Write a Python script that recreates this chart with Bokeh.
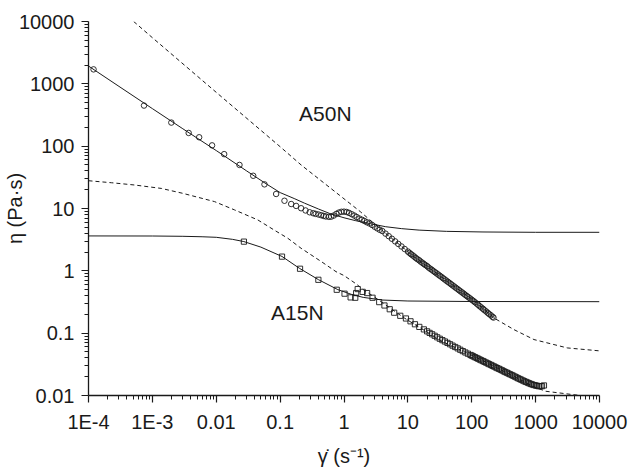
from bokeh.plotting import figure
from bokeh.models import Range1d, FixedTicker, CustomJSTickFormatter, Label
from bokeh.embed import file_html
from bokeh.resources import INLINE

# ---- axis ticks -------------------------------------------------------
x_ticks = [1e-4, 1e-3, 1e-2, 1e-1, 1, 10, 100, 1000, 10000]
x_tick_labels = ["1E-4", "1E-3", "0.01", "0.1", "1", "10", "100", "1000", "10000"]
y_ticks = [0.01, 0.1, 1, 10, 100, 1000, 10000]
y_tick_labels = ["0.01", "0.1", "1", "10", "100", "1000", "10000"]

# ---- A50N: measured viscosity (circles) -------------------------------
a50n_rate = [1.2e-4, 7.4e-4, 1.98e-3, 3.7e-3, 5.4e-3, 8.6e-3, 0.0133, 0.0231, 0.0379, 0.0569,
             0.0866, 0.117, 0.149, 0.178, 0.213, 0.25, 0.29, 0.33, 0.36, 0.40, 0.44, 0.48, 0.52,
             0.58, 0.63, 0.69, 0.76, 0.83, 0.91, 1.0, 1.10, 1.20, 1.32, 1.45, 1.58, 1.74, 1.91,
             2.09, 2.29, 2.51, 2.75, 3.02, 3.31, 3.63,
             3.98, 4.47, 5.01, 5.62, 6.31, 7.08, 7.94, 8.91, 10.0, 10.6, 11.2, 11.9, 12.6,
             13.3, 14.1, 15.0, 15.8, 16.8, 17.8, 18.8, 20.0, 21.1, 22.4, 23.7, 25.1, 26.6, 28.2,
             29.9, 31.6, 33.5, 35.5, 37.6, 39.8,
             42.2, 44.7, 47.3, 50.1, 53.1, 56.2, 59.6, 63.1, 66.8, 70.8, 75.0, 79.4, 84.1, 89.1,
             94.4, 100, 106, 112,
             119, 126, 133, 141, 150, 158, 168, 178, 188, 200, 211, 219]
a50n_eta = [1706, 448, 239, 163, 139, 103, 74.5, 50, 33.5, 24.4,
            17.1, 13.3, 11.8, 11.0, 10.1, 9.3, 8.7, 8.4, 8.2, 8.0, 7.8, 7.6, 7.45,
            7.35, 7.4, 7.7, 8.2, 8.6, 8.85, 8.9, 8.8, 8.5, 8.1, 7.7, 7.3, 6.9, 6.6,
            6.3, 6.0, 5.75, 5.45, 5.1, 4.8, 4.55,
            4.35, 3.95, 3.6, 3.27, 2.97, 2.70, 2.46, 2.24, 2.04, 1.94, 1.85, 1.77, 1.69,
            1.61, 1.54, 1.48, 1.41, 1.35, 1.29, 1.24, 1.19, 1.13, 1.08, 1.04, 0.993, 0.95, 0.91,
            0.87, 0.834, 0.80, 0.762, 0.73, 0.698,
            0.668, 0.64, 0.612, 0.585, 0.56, 0.536, 0.513, 0.49, 0.469, 0.449, 0.43, 0.41, 0.393, 0.376,
            0.36, 0.344, 0.329, 0.314,
            0.299, 0.285, 0.271, 0.258, 0.246, 0.234, 0.223, 0.212, 0.202, 0.193, 0.183, 0.178]

# ---- A15N: measured viscosity (squares) -------------------------------
a15n_rate = [0.0271, 0.107, 0.205, 0.397, 0.77, 1.02, 1.27, 1.5, 1.55, 1.64, 1.96, 2.3,
             2.8, 3.56, 4.3, 5.2, 6.1, 7.6, 9.33, 11.0, 12.9, 15.1, 17.8, 20.0,
             21.9, 24.0, 26.3, 28.8, 31.6, 34.7, 38.0, 41.7, 45.7, 50.1, 55.0, 60.3, 66.1,
             72.4, 79.4, 87.1, 95.5,
             100, 106, 112, 119, 126, 133, 141, 150, 158, 168, 178, 188, 200, 211, 224, 237,
             251, 266, 282, 299, 316, 335, 355, 376, 398, 422, 447, 473, 501, 531, 562, 596,
             631, 668, 708, 750, 794, 841, 891, 944, 1000, 1059, 1122, 1189, 1259, 1350]
a15n_eta = [2.94, 1.69, 1.08, 0.718, 0.497, 0.43, 0.375, 0.37, 0.44, 0.51, 0.46, 0.44,
            0.37, 0.315, 0.278, 0.242, 0.213, 0.19, 0.172, 0.155, 0.139, 0.126, 0.115, 0.107,
            0.101, 0.096, 0.0908, 0.0859, 0.0813, 0.0773, 0.0735, 0.0698, 0.0664, 0.0631, 0.060,
            0.057, 0.0542, 0.0515, 0.049, 0.0468, 0.0447,
            0.0437, 0.0424, 0.0412, 0.040, 0.0389, 0.0378, 0.0367, 0.0357, 0.0347, 0.0337,
            0.0327, 0.0318, 0.0309, 0.030, 0.0292, 0.0283,
            0.0275, 0.0268, 0.026, 0.0253, 0.0245, 0.0238, 0.0232, 0.0225, 0.0219, 0.0213,
            0.0207, 0.0201, 0.0195, 0.0189, 0.0184, 0.0179,
            0.0174, 0.0169, 0.0165, 0.0161, 0.0157, 0.0153, 0.015, 0.0147, 0.0145, 0.0143,
            0.0141, 0.0141, 0.0141, 0.0145]

# ---- model curves -----------------------------------------------------
a50n_fit_rate = [1e-4, 3e-4, 1e-3, 3e-3, 0.01, 0.03, 0.06, 0.1, 0.17, 0.24, 0.4, 0.6, 1.0,
                 1.5, 2.6, 4.5, 8, 15, 40, 150, 1000, 10000]
a50n_fit_eta = [1930, 910, 400, 190, 85, 40, 25, 18, 14.3, 12.2, 9.8, 8.3, 7.1,
                6.4, 5.7, 5.1, 4.75, 4.5, 4.3, 4.2, 4.15, 4.15]

a15n_fit_rate = [1e-4, 1e-3, 3e-3, 0.006, 0.01, 0.018, 0.027, 0.05, 0.107, 0.2, 0.4, 0.8,
                 1.3, 2, 4, 10, 100, 10000]
a15n_fit_eta = [3.63, 3.62, 3.58, 3.52, 3.45, 3.2, 2.95, 2.4, 1.7, 1.1, 0.72, 0.5,
                0.42, 0.375, 0.34, 0.328, 0.322, 0.32]

a50n_dash_rate = [5.1e-4, 1e-3, 0.01, 0.1, 0.213, 0.845, 1.8, 3.8, 12.5, 41.7, 109, 223,
                  458, 942, 3126, 10000]
a50n_dash_eta = [10000, 5500, 730, 98, 50, 16.4, 8.9, 4.6, 1.69, 0.675, 0.33, 0.175,
                 0.114, 0.079, 0.058, 0.052]

a15n_dash_rate = [1e-4, 2.3e-4, 5.3e-4, 1.38e-3, 3e-3, 9.4e-3, 0.0193, 0.0448, 0.081, 0.132,
                  0.213, 0.44, 0.75, 1.0, 1.54, 2.0, 2.5, 3.0, 3.8, 8.8, 35, 123, 407, 942,
                  1432, 5000, 10000]
a15n_dash_eta = [27.9, 25.9, 23.8, 21, 17.5, 12.9, 9.5, 6.55, 4.5, 3.33,
                 2.3, 1.41, 0.97, 0.84, 0.62, 0.5, 0.43, 0.38, 0.32, 0.175, 0.073, 0.040, 0.0215, 0.0138,
                 0.0117, 0.0100, 0.0093]

FONT = "Liberation Sans"
INK = "#1a1a1a"

p = figure(width=630, height=469, x_axis_type="log", y_axis_type="log",
           x_range=Range1d(1e-4, 1e4), y_range=Range1d(0.01, 1e4),
           output_backend="svg", toolbar_location=None,
           min_border_left=87, min_border_right=31, min_border_top=21, min_border_bottom=73)
p.outline_line_color = None
p.background_fill_color = "white"
p.border_fill_color = "white"
p.xgrid.visible = False
p.ygrid.visible = False

x_minor = [m * 10.0 ** e for e in range(-4, 4) for m in range(2, 10)]
y_minor = [m * 10.0 ** e for e in range(-2, 4) for m in range(2, 10)]
p.xaxis.ticker = FixedTicker(ticks=x_ticks, minor_ticks=x_minor)
p.yaxis.ticker = FixedTicker(ticks=y_ticks, minor_ticks=y_minor)

fmt_code = """
const lt = Math.log10(tick);
for (let i = 0; i < vals.length; i++) {
  if (Math.abs(Math.log10(vals[i]) - lt) < 1e-6) { return labels[i]; }
}
return "";
"""
p.xaxis.formatter = CustomJSTickFormatter(args=dict(vals=x_ticks, labels=x_tick_labels), code=fmt_code)
p.yaxis.formatter = CustomJSTickFormatter(args=dict(vals=y_ticks, labels=y_tick_labels), code=fmt_code)

for ax in (p.xaxis, p.yaxis):
    ax.axis_line_color = INK
    ax.axis_line_width = 1.3
    ax.major_tick_line_color = INK
    ax.minor_tick_line_color = INK
    ax.major_tick_line_width = 1.2
    ax.minor_tick_line_width = 1.0
    ax.major_tick_in = 0
    ax.major_tick_out = 7
    ax.minor_tick_in = 0
    ax.minor_tick_out = 4
    ax.major_label_text_font = FONT
    ax.major_label_text_font_size = "20px"
    ax.major_label_text_color = INK
    ax.axis_label_text_font = FONT
    ax.axis_label_text_font_size = "20px"
    ax.axis_label_text_font_style = "normal"
    ax.axis_label_text_color = INK
p.xaxis.major_label_standoff = 8
p.yaxis.major_label_standoff = 7

# axis titles; the y title sits partly beside the shorter tick labels
p.yaxis.axis_label = "η (Pa·s)"
p.yaxis.axis_label_standoff = -10
p.xaxis.axis_label = "γ̇ (s⁻¹)"
p.xaxis.axis_label_standoff = 9

# model curves
p.line(a50n_fit_rate, a50n_fit_eta, line_color=INK, line_width=1.0)
p.line(a15n_fit_rate, a15n_fit_eta, line_color=INK, line_width=1.0)
p.line(a50n_dash_rate, a50n_dash_eta, line_color=INK, line_width=1.0, line_dash="4 3")
p.line(a15n_dash_rate, a15n_dash_eta, line_color=INK, line_width=1.0, line_dash="4 3")

# measurements
p.scatter(a50n_rate, a50n_eta, marker="circle", size=5.5, fill_color=None,
          line_color=INK, line_width=0.9)
p.scatter(a15n_rate, a15n_eta, marker="square", size=5.2, fill_color=None,
          line_color=INK, line_width=0.9)

# sample names
p.add_layout(Label(x=0.198, y=338, text="A50N", text_font=FONT, text_font_size="21px",
                   text_color=INK, text_baseline="middle", text_align="left"))
p.add_layout(Label(x=0.072, y=0.213, text="A15N", text_font=FONT, text_font_size="21px",
                   text_color=INK, text_baseline="middle", text_align="left"))

open("out.html", "w").write(file_html(p, INLINE))
